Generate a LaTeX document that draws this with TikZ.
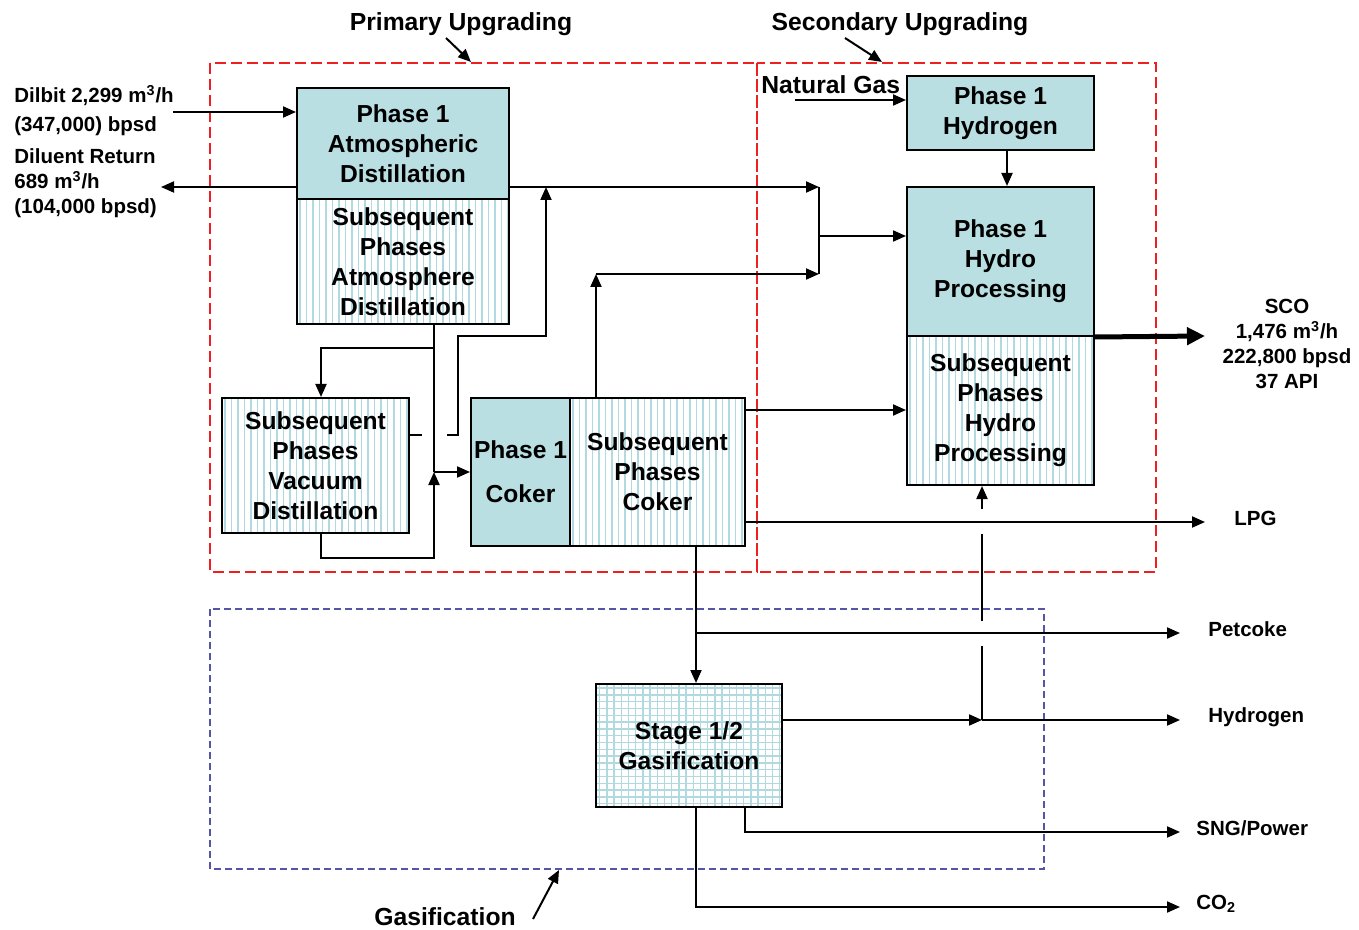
\documentclass[tikz,border=0pt]{standalone}
\usepackage{fontspec}
\setmainfont{Liberation Sans}
\usetikzlibrary{arrows.meta}
\definecolor{boxfill}{RGB}{185,223,227}
\definecolor{stripecol}{RGB}{176,218,224}
\definecolor{reddash}{RGB}{240,30,30}
\definecolor{bluedash}{RGB}{85,85,165}
\tikzset{
  vstripes/.style={path picture={
    \foreach \k in {0,...,32}{
      \draw[stripecol, line width=0.75pt] ([xshift=\k*3.25pt+1.6pt]path picture bounding box.south west) -- ([xshift=\k*3.25pt+1.6pt]path picture bounding box.north west);
    }}},
  gridfill/.style={path picture={
    \foreach \k in {0,...,30}{
      \draw[stripecol, line width=0.7pt] ([xshift=\k*3.6pt+1.8pt]path picture bounding box.south west) -- ([xshift=\k*3.6pt+1.8pt]path picture bounding box.north west);
      \draw[stripecol, line width=0.7pt] ([yshift=\k*3.4pt+1.7pt]path picture bounding box.south west) -- ([yshift=\k*3.4pt+1.7pt]path picture bounding box.south east);
    }}},
  box/.style={draw=black, line width=1pt, inner sep=0pt, align=center,
    font=\fontsize{12.3pt}{15pt}\selectfont\bfseries},
  pbox/.style={box, fill=boxfill},
  sbox/.style={box, fill=white, vstripes},
  gbox/.style={box, fill=white, gridfill},
  lbl/.style={inner sep=0pt, align=left, font=\fontsize{10.25pt}{12.5pt}\selectfont\bfseries},
  ttl/.style={inner sep=0pt, font=\fontsize{12.35pt}{15pt}\selectfont\bfseries},
  flow/.style={line width=1pt, -{Triangle[length=6.5pt,width=5.5pt]}},
  plain/.style={line width=1pt},
  reg1/.style={draw=reddash, line width=0.8pt, dash pattern=on 5.5pt off 2.5pt},
  reg2/.style={draw=bluedash, line width=0.8pt, dash pattern=on 3.5pt off 2pt},
  scoarrow/.style={line width=2.5pt, -{Triangle[length=9pt,width=8.5pt]}},
}
\begin{document}
\begin{tikzpicture}[x=0.5pt, y=-0.5pt]
\useasboundingbox (0,0) rectangle (1359,930);

% regions
\draw[reg1] (210,63) rectangle (757,572);
\draw[reg1] (757,63) rectangle (1156,572);
\draw[reg2] (210,609) rectangle (1044,869);

% boxes
\node[pbox, minimum width=106pt, minimum height=55.5pt] (atm1) at (403,143.5) {Phase 1\\Atmospheric\\Distillation};
\node[sbox, minimum width=106pt, minimum height=62.5pt] (atm2) at (403,261.5) {Subsequent\\Phases\\Atmosphere\\Distillation};
\node[sbox, minimum width=93.5pt, minimum height=67.5pt] (vac) at (315.5,465.5) {Subsequent\\Phases\\Vacuum\\Distillation};
\node[pbox, minimum width=49.5pt, minimum height=74pt] (cok1) at (520.5,472) {Phase 1\\[7pt]Coker};
\node[sbox, minimum width=87.5pt, minimum height=74pt] (cokS) at (657.5,472) {Subsequent\\Phases\\Coker};
\node[pbox, minimum width=93.5pt, minimum height=37pt] (h2) at (1000.5,113) {Phase 1\\Hydrogen};
\node[pbox, minimum width=93.5pt, minimum height=74.5pt] (hp1) at (1000.5,261.5) {Phase 1\\Hydro\\Processing};
\node[sbox, minimum width=93.5pt, minimum height=74.5pt] (hp2) at (1000.5,410.5) {Subsequent\\Phases\\Hydro\\Processing};
\node[gbox, minimum width=93pt, minimum height=61.5pt] (gas) at (689,745.5) {Stage 1/2\\Gasification};

% titles
\node[ttl] (tPrim) at (461,24) {Primary Upgrading};
\node[ttl] (tSec) at (900,24) {Secondary Upgrading};
\node[ttl] (tGas) at (445,917) {Gasification};
\node[ttl, anchor=west] (tNG) at (761,85) {Natural Gas};
\coordinate (pA) at (446,38); \coordinate (pB) at (471,62);
\coordinate (sA) at (845,38); \coordinate (sB) at (882,62);
\coordinate (gA) at (533,919); \coordinate (gB) at (559,870);
\draw[flow] (pA) -- (pB);
\draw[flow] (sA) -- (sB);
\draw[flow] (gA) -- (gB);

% side labels
\node[lbl, anchor=west, font=\fontsize{10.25pt}{14.5pt}\selectfont\bfseries] (lDil) at (14,110.5) {Dilbit 2,299 m\textsuperscript{3}/h\\(347,000) bpsd};
\node[lbl, anchor=west] (lRet) at (14,183) {Diluent Return\\689 m\textsuperscript{3}/h\\(104,000 bpsd)};
\node[lbl, align=center, font=\fontsize{10.25pt}{12.35pt}\selectfont\bfseries] (lSCO) at (1287,344) {SCO\\1,476 m\textsuperscript{3}/h\\222,800 bpsd\\37 API};
\node[lbl, anchor=west] (lLPG) at (1234,518) {LPG};
\node[lbl, anchor=west] (lPet) at (1208,629) {Petcoke};
\node[lbl, anchor=west] (lHyd) at (1208,717) {Hydrogen};
\node[lbl, anchor=west] (lSNG) at (1196,828) {SNG/Power};
\node[lbl, anchor=west] (lCO) at (1196,904) {CO\textsubscript{2}};

% coordinates
\coordinate (dilS) at (173,112);
\coordinate (retE) at (161,187);
\coordinate (jA) at (819,187);
\coordinate (jM) at (819,236);
\coordinate (jB) at (819,274);
\coordinate (cB) at (596,274);
\coordinate (v1) at (422,435);
\coordinate (v2) at (447,435);
\coordinate (v3) at (458,435);
\coordinate (v4) at (458,336);
\coordinate (v5) at (546,336);
\coordinate (a1) at (434,348);
\coordinate (a2) at (321,348);
\coordinate (k1) at (434,472);
\coordinate (b2) at (434,558);
\coordinate (r1) at (745,410);
\coordinate (lpgE) at (1205,522);
\coordinate (g0) at (696,633);
\coordinate (petE) at (1180,633);
\coordinate (h1) at (982,720);
\coordinate (hE) at (1180,720);
\coordinate (hv1) at (982,646);
\coordinate (hv2) at (982,621);
\coordinate (hv3) at (982,534);
\coordinate (hv4) at (982,509);
\coordinate (s1) at (745,832);
\coordinate (sE) at (1180,832);
\coordinate (c1) at (696,907);
\coordinate (cE) at (1180,907);
\coordinate (scoE) at (1205,336);
\coordinate (ngS) at (795,100);
\coordinate (hx) at (1007,150);

% connectors
\draw[flow] (dilS) -- (atm1.west |- dilS);
\draw[flow] (atm1.west |- retE) -- (retE);
\draw[flow] (atm1.east |- jA) -- (jA);
\draw[plain] (jA) -- (jB);
\draw[flow] (jM) -- (hp1.west |- jM);
\draw[flow] (cB |- cokS.north) -- (cB);
\draw[flow] (cB) -- (jB);
\draw[plain] (vac.east |- v1) -- (v1);
\draw[flow] (v2) -- (v3) -- (v4) -- (v5) -- (v5 |- jA);
\draw[plain] (a1 |- atm2.south) -- (k1);
\draw[flow] (a1) -- (a2) -- (a2 |- vac.north);
\draw[flow] (a2 |- vac.south) -- (a2 |- b2) -- (b2) -- (k1);
\draw[flow] (k1) -- (cok1.west |- k1);
\draw[flow] (cokS.east |- r1) -- (hp2.west |- r1);
\draw[flow] (cokS.east |- lpgE) -- (lpgE);
\draw[flow] (g0 |- cokS.south) -- (g0 |- gas.north);
\draw[flow] (g0) -- (petE);
\draw[flow] (gas.east |- h1) -- (h1);
\draw[flow] (h1) -- (hE);
\draw[plain] (h1) -- (hv1);
\draw[plain] (hv2) -- (hv3);
\draw[flow] (hv4) -- (hv4 |- hp2.south);
\draw[flow] (s1 |- gas.south) -- (s1) -- (sE);
\draw[flow] (c1 |- gas.south) -- (c1) -- (cE);
\draw[scoarrow] (hp1.south east) -- (scoE);
\draw[flow] (ngS) -- (h2.west |- ngS);
\draw[flow] (hx |- h2.south) -- (hx |- hp1.north);
\end{tikzpicture}
\end{document}
